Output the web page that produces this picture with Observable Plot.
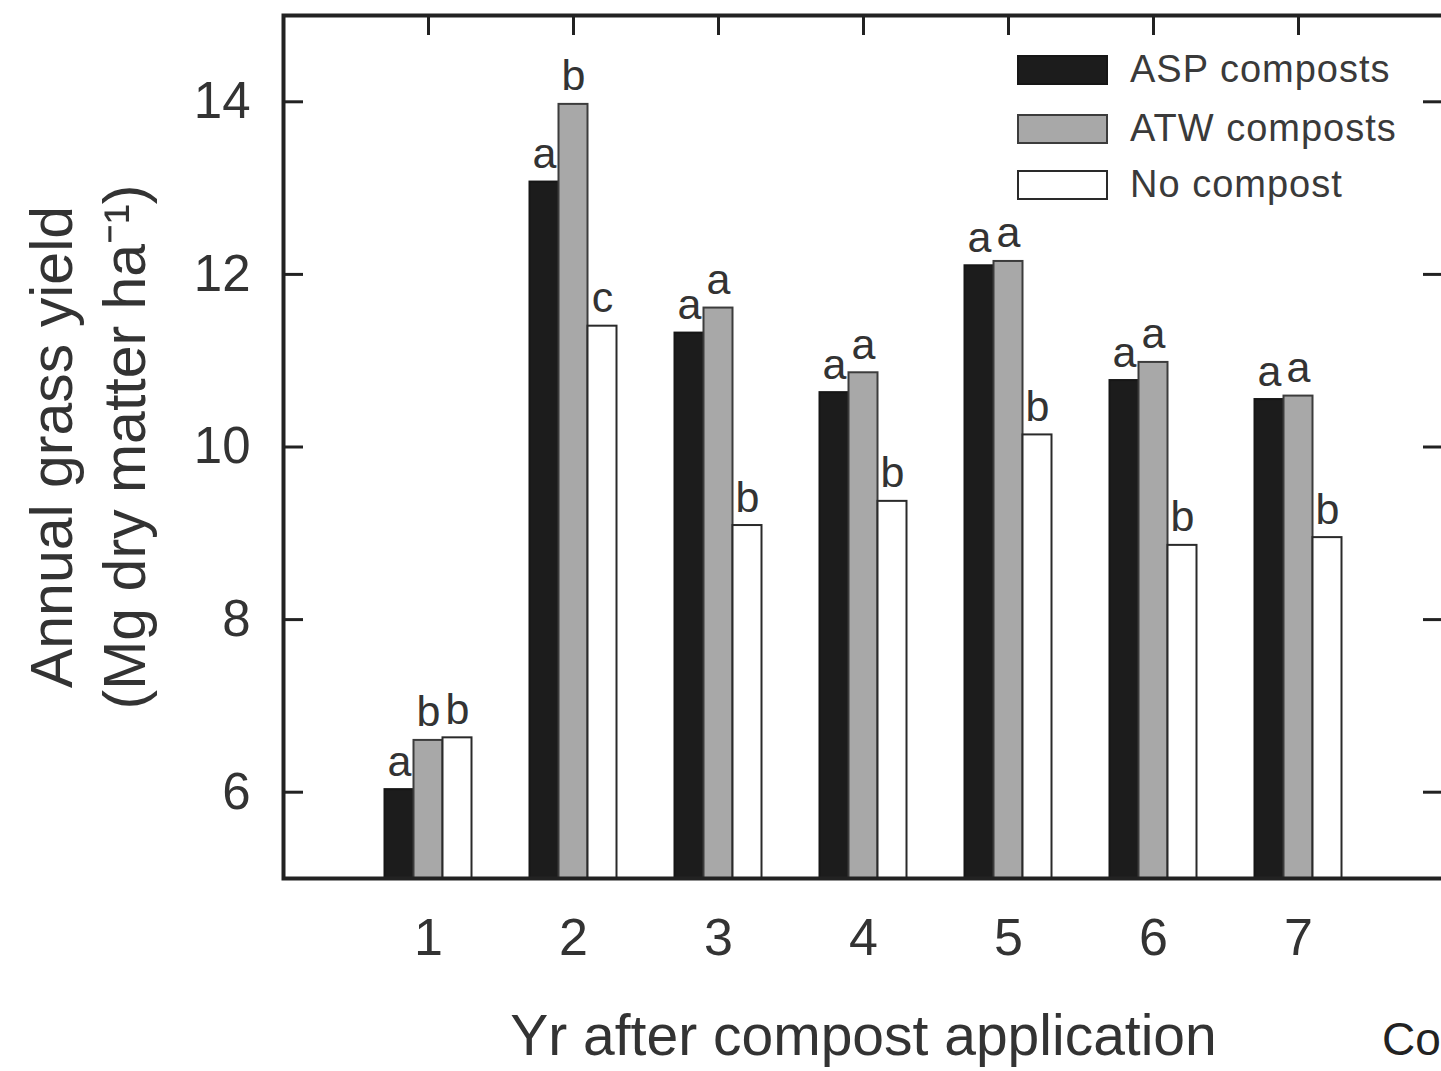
<!DOCTYPE html>
<html>
<head>
<meta charset="utf-8">
<script src="https://cdn.jsdelivr.net/npm/d3@7"></script>
<script src="https://cdn.jsdelivr.net/npm/@observablehq/plot@0.6"></script>
<style>
  html, body { margin: 0; padding: 0; background: #fff; overflow: hidden; }
  #wrap { position: relative; width: 1441px; height: 1071px; overflow: hidden; font-family: "Liberation Sans", Arial, sans-serif; }
  #chart { position: absolute; left: 0; top: 0; width: 1460px; }
  #chart svg { max-width: none !important; }
  .legend-row { position: absolute; left: 1017px; display: flex; align-items: center; }
  .sw { width: 87px; height: 26px; border: 2px solid #2e2e2e; box-sizing: content-box; }
  .lab { margin-left: 22px; font-size: 38px; letter-spacing: 1px; color: #3a3a3a; white-space: nowrap; }
  #caption { position: absolute; left: 1382px; top: 1012px; font-size: 46px; color: #222; font-family: "Liberation Sans", Arial, sans-serif; white-space: nowrap; }
</style>
</head>
<body>
<div id="wrap">
  <div id="chart"></div>
  <div id="legend"></div>
  <div id="caption">Co</div>
</div>
<script>
// ---- data ----
const years = [1, 2, 3, 4, 5, 6, 7];
const seriesNames = ["ASP composts", "ATW composts", "No compost"];
const aspValues  = [6.03, 13.07, 11.32, 10.63, 12.10, 10.77, 10.55];
const atwValues  = [6.60, 13.97, 11.61, 10.86, 12.15, 10.98, 10.59];
const noneValues = [6.63, 11.40, 9.09, 9.37, 10.14, 8.86, 8.95];
const aspLetters  = ["a", "a", "a", "a", "a", "a", "a"];
const atwLetters  = ["b", "b", "a", "a", "a", "a", "a"];
const noneLetters = ["b", "c", "b", "b", "b", "b", "b"];
const yTicks = [6, 8, 10, 12, 14];
const yDomain = [5, 15];
const xDomain = [0, 8];
const xTitle = "Yr after compost application";
const yTitle = "Annual grass yield\n(Mg dry matter ha\u207B\u00B9)";

// ---- styles ----
const fills   = ["#1c1c1c", "#a8a8a8", "#ffffff"];
const strokes = ["#161616", "#3c3c3c", "#2a2a2a"];
const barWidth = 0.2;

const valueSets = [aspValues, atwValues, noneValues];
const letterSets = [aspLetters, atwLetters, noneLetters];
const table = [];
valueSets.forEach((vals, s) => {
  years.forEach((yr, i) => {
    const center = yr + (s - 1) * barWidth;
    table.push({
      year: yr, series: seriesNames[s], s,
      value: vals[i], letter: letterSets[s][i],
      x1: center - barWidth / 2, x2: center + barWidth / 2, xc: center
    });
  });
});

const W = 1460, H = 1071;
const mL = 283, mR = 17, mT = 15, mB = 193;
const plotW = W - mL - mR, plotH = H - mT - mB;
const tickLen = 20;
const fmt = d => String(d);

const chart = Plot.plot({
  width: W, height: H,
  marginLeft: mL, marginRight: mR, marginTop: mT, marginBottom: mB,
  style: { fontFamily: "'Liberation Sans', Arial, sans-serif", color: "#333", background: "#fff", maxWidth: "none" },
  x: { domain: xDomain, axis: null },
  y: { domain: yDomain, axis: null },
  marks: [
    Plot.rect(table, {
      x1: "x1", x2: "x2", y1: () => yDomain[0], y2: "value",
      fill: d => fills[d.s], stroke: d => strokes[d.s], strokeWidth: 2
    }),
    Plot.text(table, {
      x: "xc", y: "value", text: "letter", lineAnchor: "bottom", dy: -14,
      fontSize: 43, fill: "#333"
    }),
    // axis tick labels
    Plot.axisY(yTicks, { anchor: "left", tickSize: 0, tickPadding: 33, fontSize: 51, label: null, tickFormat: fmt }),
    Plot.axisX(years, { anchor: "bottom", tickSize: 0, tickPadding: 40, fontSize: 52, label: null, tickFormat: fmt }),
    // inward ticks
    Plot.tickY(yTicks, { y: d => d, insetRight: plotW - tickLen, stroke: "#222", strokeWidth: 3 }),
    Plot.tickY(yTicks, { y: d => d, insetLeft: plotW - tickLen, stroke: "#222", strokeWidth: 3 }),
    Plot.tickX(years, { x: d => d, insetBottom: plotH - tickLen, stroke: "#222", strokeWidth: 3 }),
    Plot.frame({ stroke: "#222", strokeWidth: 4 }),
    // titles
    Plot.text([xTitle], { ariaLabel: "xtitle", frameAnchor: "bottom", text: d => d, dy: 158, lineAnchor: "middle", textAnchor: "middle", fontSize: 57, fill: "#333" }),
    Plot.text([yTitle], { ariaLabel: "ytitle", frameAnchor: "left", text: d => d, dx: -198, rotate: -90, textAnchor: "middle", lineAnchor: "middle", lineHeight: 1.24, fontSize: 59, fill: "#333" })
  ]
});
d3.select(chart).selectAll('g[aria-label="xtitle"] text, g[aria-label="ytitle"] text').style("letter-spacing", "1px");
document.getElementById("chart").appendChild(chart);

// legend (HTML overlay inside the plot area)
const legend = document.getElementById("legend");
const rowTops = [48, 107, 163];
seriesNames.forEach((name, s) => {
  const row = document.createElement("div");
  row.className = "legend-row";
  row.style.top = rowTops[s] + "px";
  const sw = document.createElement("div");
  sw.className = "sw";
  sw.style.background = fills[s];
  sw.style.borderColor = strokes[s];
  const lab = document.createElement("span");
  lab.className = "lab";
  lab.textContent = name;
  row.appendChild(sw);
  row.appendChild(lab);
  legend.appendChild(row);
});
</script>
</body>
</html>
